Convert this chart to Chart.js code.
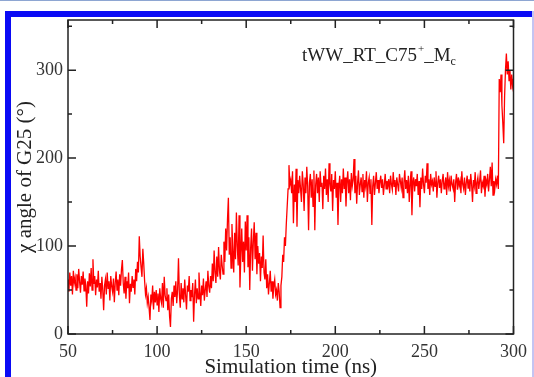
<!DOCTYPE html>
<html>
<head>
<meta charset="utf-8">
<script src="https://cdn.jsdelivr.net/npm/chart.js@4"></script>
<style>
  html, body { margin: 0; padding: 0; background: #fff; overflow: hidden; }
  #wrap { position: relative; width: 534px; height: 377px; overflow: hidden; }
  .topline { position: absolute; left: 0; top: 0; width: 534px; height: 1px; background: #8ea6d2; }
  .frame { position: absolute; left: 5px; top: 11px; width: 600px; height: 500px;
           border-left: 6px solid #0a0af5; border-top: 6px solid #0a0af5; }
  .rightstrip { position: absolute; left: 532px; top: 11px; width: 2px; height: 366px; background: #c4c4f2; }
  canvas { position: absolute; left: 0; top: 0; }
</style>
</head>
<body>
<div id="wrap">
  <div class="topline"></div>
  <div class="frame"></div>
  <div class="rightstrip"></div>
  <canvas id="chiChart" width="534" height="377"></canvas>
</div>
<script>
// Sampling of the trajectory (ns)
const timeStart = 50;
const timeStep = 0.5;

// chi angle of G25 (degrees), one value every 0.5 ns from 50 to 300 ns
const chiAngle = [
  // 50 - 90 ns
  62, 48, 70, 55, 66, 45, 72, 58, 64, 50,
  68, 52, 74, 60, 47, 66, 56, 71, 49, 63,
  55, 31, 60, 46, 69, 54, 75, 50, 85, 57,
  66, 44, 62, 53, 72, 48, 58, 40, 65, 50,
  27, 55, 62, 45, 70, 52, 60, 38, 66, 54,
  48, 63, 36, 58, 71, 50, 62, 44, 68, 55,
  73, 84, 58, 46, 65, 40, 60, 52, 70, 35,
  57, 48, 66, 53, 62, 45, 74, 60, 82, 70,
  // 90 - 130 ns
  111, 88, 76, 65, 97, 80, 60, 45, 52, 35,
  42, 30, 16, 45, 38, 55, 28, 48, 36, 50,
  33, 46, 25, 52, 40, 35, 58, 30, 65, 44,
  38, 52, 27, 45, 20, 8, 40, 48, 32, 55,
  42, 60, 35, 50, 86, 45, 30, 58, 40, 52,
  36, 62, 44, 28, 55, 48, 66, 38, 50, 42,
  58, 14, 45, 62, 35, 52, 40, 70, 48, 32,
  55, 44, 63, 38, 50, 60, 42, 72, 54, 47,
  // 130 - 175 ns
  66, 52, 80, 60, 95, 70, 58, 88, 65, 99,
  72, 62, 90, 78, 68, 105, 82, 120, 95, 130,
  155, 90, 110, 75, 125, 95, 70, 115, 85, 138,
  100, 78, 135, 53, 90, 120, 82, 105, 70, 128,
  95, 135, 76, 110, 50, 98, 120, 72, 105, 127,
  85, 115, 68, 100, 80, 92, 60, 88, 75, 112,
  70, 62, 85, 52, 68, 45, 58, 72, 48, 60,
  40, 55, 62, 45, 50, 38, 58, 48, 30, 55,
  65, 90, 82, 110, 100, 125, 145, 165, 192, 170,
  // 175 - 230 ns
  175, 160, 185, 126, 170, 150, 188, 122, 175, 160,
  180, 165, 150, 185, 170, 140, 178, 160, 190, 168,
  118, 172, 182, 155, 176, 145, 186, 118, 170, 182,
  160, 178, 150, 185, 168, 172, 142, 180, 165, 188,
  158, 176, 150, 194, 170, 162, 182, 140, 175, 165,
  185, 155, 172, 124, 168, 180, 150, 176, 160, 188,
  165, 178, 145, 172, 185, 160, 176, 152, 183, 168,
  175, 199, 160, 180, 148, 172, 186, 158, 170, 178,
  162, 182, 155, 175, 168, 185, 150, 172, 178, 160,
  176, 124, 168, 180, 158, 172, 184, 165, 175, 160,
  172, 180, 166, 176, 158, 170, 182, 165, 174, 168,
  // 230 - 290 ns
  176, 160, 180, 170, 164, 184, 168, 175, 158, 178,
  170, 162, 182, 174, 166, 178, 155, 172, 186, 165,
  175, 160, 180, 150, 172, 185, 135, 170, 178, 162,
  176, 168, 182, 158, 174, 144, 178, 165, 188, 170,
  160, 180, 172, 194, 165, 176, 158, 182, 170, 174,
  162, 178, 168, 185, 155, 172, 180, 166, 176, 160,
  174, 182, 165, 170, 178, 158, 184, 168, 175, 162,
  180, 170, 166, 176, 150, 172, 182, 164, 178, 168,
  174, 160, 185, 170, 165, 178, 158, 172, 180, 166,
  176, 162, 182, 170, 150, 175, 168, 184, 160, 172,
  178, 165, 174, 186, 160, 172, 168, 180, 156, 175,
  170, 182, 162, 176, 190, 168, 195, 158, 174, 165,
  // 290 - 300 ns
  176, 170, 180, 165, 290, 275, 295, 260, 240, 217,
  270, 300, 319, 295, 310, 288, 300, 278, 295, 282,
  290
];

const points = chiAngle.map((v, i) => ({ x: timeStart + i * timeStep, y: v }));

const xMajor = [50, 100, 150, 200, 250, 300];
const yMajor = [0, 100, 200, 300];

const serif = "'Liberation Serif', 'DejaVu Serif', serif";

// inward ticks on all four sides + frame + label
const frameTicks = {
  id: "frameTicks",
  afterDraw(chart) {
    const ctx = chart.ctx;
    const a = chart.chartArea;
    const xs = chart.scales.x;
    const ys = chart.scales.y;
    ctx.save();
    ctx.strokeStyle = "#222";
    ctx.lineWidth = 1.5;
    ctx.strokeRect(a.left, a.top, a.right - a.left, a.bottom - a.top);

    ctx.beginPath();
    xs.ticks.forEach(t => {
      const px = xs.getPixelForValue(t.value);
      const len = xMajor.includes(t.value) ? 8 : 4;
      ctx.moveTo(px, a.bottom); ctx.lineTo(px, a.bottom - len);
      ctx.moveTo(px, a.top); ctx.lineTo(px, a.top + len);
    });
    ys.ticks.forEach(t => {
      const py = ys.getPixelForValue(t.value);
      const len = yMajor.includes(t.value) ? 8 : 4;
      ctx.moveTo(a.left, py); ctx.lineTo(a.left + len, py);
      ctx.moveTo(a.right, py); ctx.lineTo(a.right - len, py);
    });
    ctx.stroke();

    // run label
    ctx.fillStyle = "#222";
    ctx.textBaseline = "alphabetic";
    ctx.font = "19px " + serif;
    let x = 302;
    const y = 61;
    ctx.fillText("tWW_RT_C75", x, y);
    x += ctx.measureText("tWW_RT_C75").width;
    ctx.font = "11px " + serif;
    ctx.fillText("+", x + 1, y - 9);
    x += ctx.measureText("+").width + 1;
    ctx.font = "19px " + serif;
    ctx.fillText("_M", x, y);
    x += ctx.measureText("_M").width;
    ctx.font = "12px " + serif;
    ctx.fillText("c", x, y + 4);
    ctx.restore();
  }
};

new Chart(document.getElementById("chiChart"), {
  type: "line",
  data: {
    datasets: [{
      data: points,
      borderColor: "rgb(255,0,0)",
      borderWidth: 1.3,
      pointRadius: 0,
      tension: 0,
      fill: false
    }]
  },
  options: {
    responsive: false,
    animation: false,
    events: [],
    layout: { padding: { top: 20, right: 15, left: 0, bottom: 0 } },
    plugins: { legend: { display: false }, tooltip: { enabled: false } },
    scales: {
      x: {
        type: "linear",
        min: 50,
        max: 300,
        grid: { display: false, drawTicks: false },
        border: { display: false },
        ticks: {
          stepSize: 25,
          autoSkip: false,
          maxRotation: 0,
          padding: 7,
          color: "#333",
          font: { family: serif, size: 18 },
          callback: v => xMajor.includes(v) ? String(v) : ""
        },
        title: {
          display: true,
          text: "Simulation time (ns)",
          color: "#222",
          font: { family: serif, size: 21 },
          padding: { top: 0, bottom: -3 }
        },
        afterFit: s => { s.height = 43; }
      },
      y: {
        type: "linear",
        min: 0,
        max: 357,
        grid: { display: false, drawTicks: false },
        border: { display: false },
        ticks: {
          stepSize: 50,
          includeBounds: false,
          autoSkip: false,
          padding: 5,
          color: "#333",
          font: { family: serif, size: 18 },
          callback: v => yMajor.includes(v) ? String(v) : ""
        },
        title: {
          display: true,
          text: "χ angle of G25 (°)",
          color: "#222",
          font: { family: serif, size: 21 },
          padding: { top: 13, bottom: 0 }
        },
        afterFit: s => { s.width = 68; }
      }
    }
  },
  plugins: [frameTicks]
});
</script>
</body>
</html>
